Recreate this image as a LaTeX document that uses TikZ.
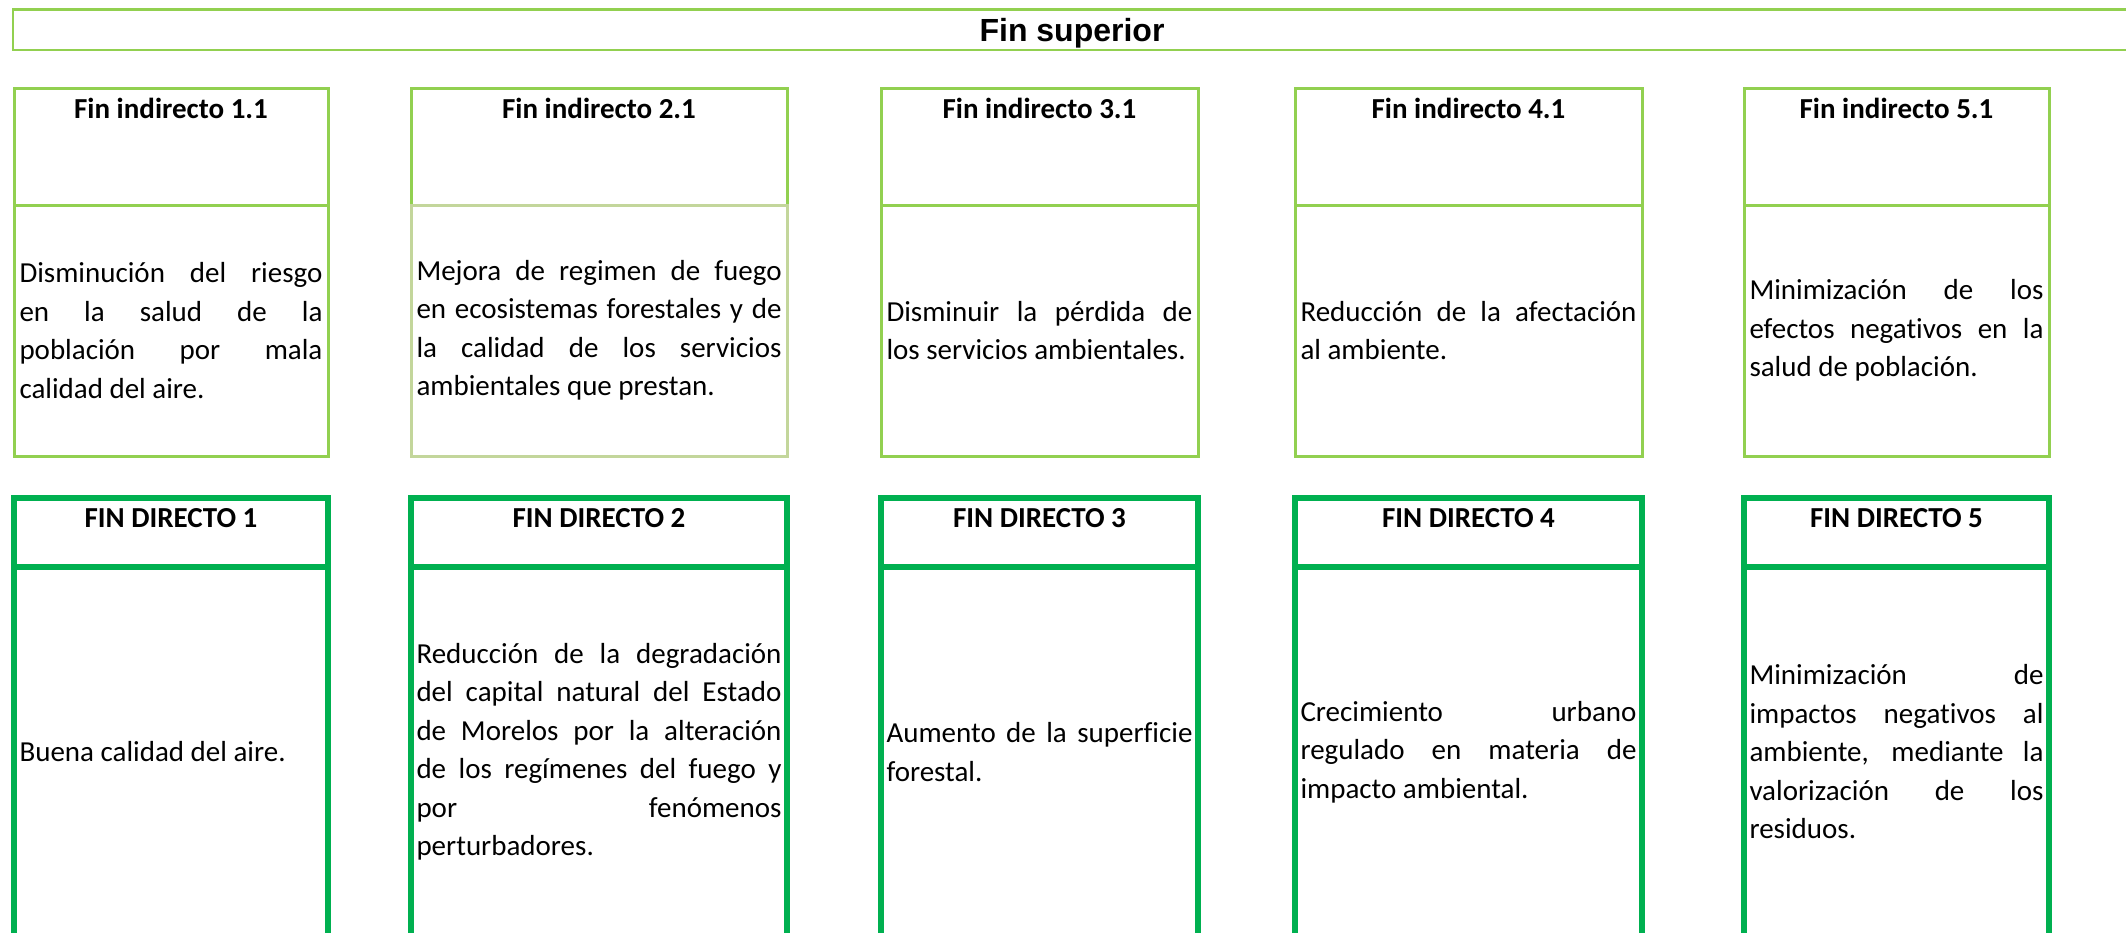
\documentclass[tikz,border=0pt]{standalone}
\usepackage{fontspec}
\setmainfont{Carlito}[Ligatures=NoCommon]
\newfontfamily\supfont{Liberation Sans}
\usetikzlibrary{positioning}
\definecolor{verdeclaro}{HTML}{92D050}
\definecolor{verdepalido}{HTML}{C3D69B}
\definecolor{verdefuerte}{HTML}{00B050}
\hyphenpenalty=10000
\tolerance=9999
\hbadness=10000

\begin{document}
\begin{tikzpicture}[x=0.5pt, y=-0.5pt, node distance=0pt]
\tikzstyle{titulo}=[draw=verdeclaro, line width=1.4pt, rectangle, outer sep=0pt, inner sep=0pt, anchor=north west, font=\supfont\bfseries\fontsize{16}{18}\selectfont, text height=11.5pt, text depth=0pt]
\tikzstyle{indcab}=[draw=verdeclaro, line width=1.5pt, rectangle, outer sep=0pt, inner sep=0pt, anchor=north west, font=\bfseries\fontsize{14.5}{17}\selectfont, text height=15pt, text depth=43.5pt]
\tikzstyle{indtxt}=[draw=verdeclaro, line width=1.5pt, rectangle, outer sep=0pt, inner xsep=2.75pt, inner ysep=0pt, align=justify, minimum height=125.5pt, font=\fontsize{14.5}{19.25}\selectfont]
\tikzstyle{dircab}=[indcab, draw=verdefuerte, line width=2.6pt, text height=14.5pt, text depth=20pt]
\tikzstyle{dirtxt}=[indtxt, draw=verdefuerte, line width=2.6pt, minimum height=185pt]
\clip (0,0) rectangle (2126,932);

% fin superior
\node[titulo, minimum width=1059pt, minimum height=20.25pt] (sup) at (13,9.5) {Fin superior};

% fines indirectos
\node[indcab, minimum width=157pt]   (i1) at (14,88)   {Fin indirecto 1.1};
\node[indcab, minimum width=188pt]   (i2) at (411,88)  {Fin indirecto 2.1};
\node[indcab, minimum width=158.5pt] (i3) at (881,88)  {Fin indirecto 3.1};
\node[indcab, minimum width=173.5pt] (i4) at (1295,88) {Fin indirecto 4.1};
\node[indcab, minimum width=152.5pt] (i5) at (1744,88) {Fin indirecto 5.1};

\node[indtxt, text width=151.5pt, below=of i1] (i1t) {Disminución del riesgo\linebreak en la salud de la\linebreak población por mala\linebreak calidad del aire.};
\node[indtxt, draw=verdepalido, text width=182.5pt, below=of i2] (i2t) {Mejora de regimen de fuego\linebreak en ecosistemas forestales y de\linebreak la calidad de los servicios\linebreak ambientales que prestan.};
\node[indtxt, text width=153pt, below=of i3] (i3t) {Disminuir la pérdida de\linebreak los servicios ambientales.};
\node[indtxt, text width=168pt, below=of i4] (i4t) {Reducción de la afectación\linebreak al ambiente.};
\node[indtxt, text width=147pt, below=of i5] (i5t) {Minimización de los\linebreak efectos negativos en la\linebreak salud de población.};

% fines directos
\node[dircab, minimum width=157pt]   (d1) at (14,498)   {FIN DIRECTO 1};
\node[dircab, minimum width=188pt]   (d2) at (411,498)  {FIN DIRECTO 2};
\node[dircab, minimum width=158.5pt] (d3) at (881,498)  {FIN DIRECTO 3};
\node[dircab, minimum width=173.5pt] (d4) at (1295,498) {FIN DIRECTO 4};
\node[dircab, minimum width=152.5pt] (d5) at (1744,498) {FIN DIRECTO 5};

\node[dirtxt, text width=151.5pt, below=of d1] (d1t) {Buena calidad del aire.};
\node[dirtxt, text width=182.5pt, below=of d2] (d2t) {Reducción de la degradación\linebreak del capital natural del Estado\linebreak de Morelos por la alteración\linebreak de los regímenes del fuego y\linebreak por fenómenos\linebreak perturbadores.};
\node[dirtxt, text width=153pt, below=of d3] (d3t) {Aumento de la superficie\linebreak forestal.};
\node[dirtxt, text width=168pt, below=of d4] (d4t) {Crecimiento urbano\linebreak regulado en materia de\linebreak impacto ambiental.};
\node[dirtxt, text width=147pt, below=of d5] (d5t) {Minimización de\linebreak impactos negativos al\linebreak ambiente, mediante la\linebreak valorización de los\linebreak residuos.};
\end{tikzpicture}
\end{document}
